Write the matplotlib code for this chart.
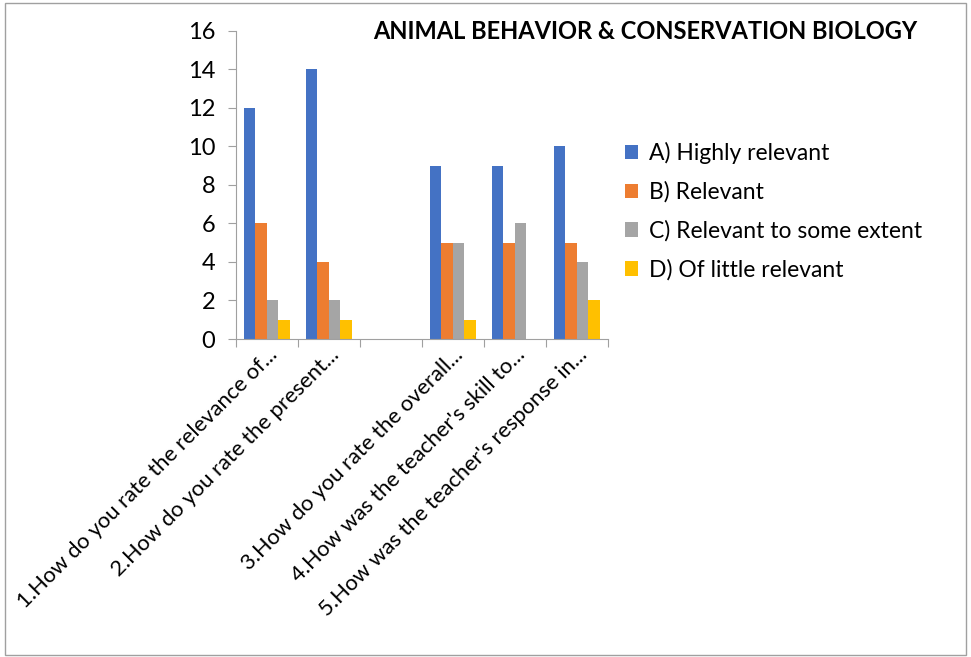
import matplotlib.pyplot as plt
import numpy as np
from matplotlib.patches import Rectangle
from matplotlib.transforms import ScaledTranslation

plt.rcParams['font.family'] = ['Lato', 'DejaVu Sans']

categories = ["1.How do you rate the relevance of...",
              "2.How do you rate the present...",
              "",
              "3.How do you rate the overall...",
              "4.How was the teacher's skill to...",
              "5.How was the teacher's response in..."]
series_names = ["A) Highly relevant", "B) Relevant",
                "C) Relevant to some extent", "D) Of little relevant"]
highly = [12, 14, 0, 9, 9, 10]
relevant = [6, 4, 0, 5, 5, 5]
some_extent = [2, 2, 0, 5, 6, 4]
little = [1, 1, 0, 1, 0, 2]
colors = ['#4472C4', '#ED7D31', '#A5A5A5', '#FFC000']

fig = plt.figure(figsize=(9.71, 6.57), dpi=100)
fig.patches.append(Rectangle((0.005, 0.003), 0.99, 0.992, transform=fig.transFigure,
                             fill=False, edgecolor='#A0A0A0', linewidth=1))
ax = fig.add_axes([0.243, 0.484, 0.383, 0.469])

x = np.arange(len(categories))
w = 0.185
for i, (vals, name) in enumerate(zip([highly, relevant, some_extent, little], series_names)):
    ax.bar(x + (i - 1.5) * w, vals, w, color=colors[i], label=name)

ax.set_xlim(-0.5, len(categories) - 0.5)
ax.set_ylim(0, 16)
ax.set_yticks(range(0, 17, 2))
ax.set_xticks(np.arange(-0.5, len(categories), 1), minor=False)
ax.set_xticklabels([])
ax.set_xticks(x, minor=True)
ax.set_xticklabels(categories, minor=True, rotation=45, ha='right', va='top',
                   rotation_mode='anchor', fontsize=15.8)
shift = ScaledTranslation(-7 / 72, -3 / 72, fig.dpi_scale_trans)
for lbl in ax.get_xticklabels(minor=True):
    lbl.set_transform(lbl.get_transform() + shift)
ax.tick_params(axis='x', which='minor', length=0, pad=4)
ax.tick_params(axis='x', which='major', length=6, color='#A0A0A0')
ax.tick_params(axis='y', length=6, color='#A0A0A0', labelsize=17, pad=9)
for s in ['top', 'right']:
    ax.spines[s].set_visible(False)
ax.spines['left'].set_color('#A0A0A0')
ax.spines['bottom'].set_color('#A0A0A0')

fig.text(0.665, 0.952, "ANIMAL BEHAVIOR & CONSERVATION BIOLOGY", ha='center', va='center',
         fontsize=17, fontweight='bold')

fig.legend(loc='upper left', bbox_to_anchor=(0.622, 0.815), frameon=False, fontsize=16.5,
           handlelength=0.6, handleheight=0.6, handletextpad=0.45, labelspacing=0.75)

fig.savefig('out.png', dpi=100)
